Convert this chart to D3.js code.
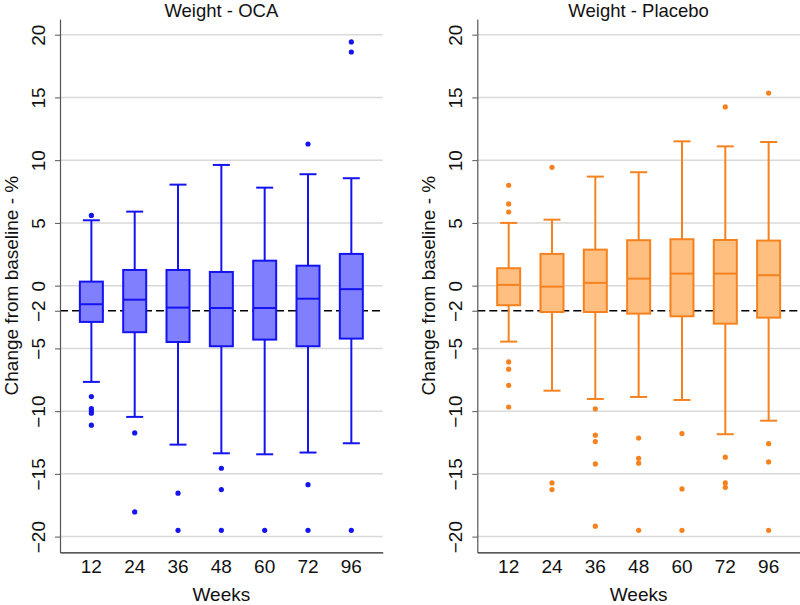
<!DOCTYPE html>
<html><head><meta charset="utf-8">
<script src="https://cdn.jsdelivr.net/npm/d3@7"></script>
<style>body{margin:0;background:#fff}svg{display:block}text{font-family:"Liberation Sans",Arial,sans-serif}</style>
</head><body><svg id="c" width="800" height="605"></svg>
<script>
const weeks = ["12","24","36","48","60","72","96"];
const yTicks = [20,15,10,5,0,-2,-5,-10,-15,-20];
const gridVals = [20,15,10,5,0,-5,-10,-15,-20];
const refLine = -2;

const ocaLow    = [-7.67,-10.46,-12.67,-13.36,-13.44,-13.30,-12.56];
const ocaQ1     = [-2.89,-3.71,-4.49,-4.83,-4.30,-4.83,-4.22];
const ocaMedian = [-1.48,-1.12,-1.75,-1.78,-1.78,-1.04,-0.28];
const ocaQ3     = [0.32,1.25,1.25,1.09,1.99,1.59,2.53];
const ocaHigh   = [5.21,5.90,8.05,9.62,7.81,8.88,8.56];
const ocaOut    = [[5.6,-8.84,-9.8,-9.98,-10.17,-11.12],[-11.74,-18.03],[-16.54,-19.5],[-14.55,-16.25,-19.5],[-19.5],[11.29,-15.86,-19.5],[19.42,18.62,-19.5]];

const plaLow    = [-4.46,-8.37,-9.03,-8.87,-9.11,-11.84,-10.76];
const plaQ1     = [-1.56,-2.10,-2.10,-2.23,-2.44,-3.03,-2.55];
const plaMedian = [0.06,-0.08,0.22,0.56,0.96,0.96,0.83];
const plaQ3     = [1.39,2.53,2.87,3.62,3.70,3.64,3.59];
const plaHigh   = [5.00,5.26,8.69,9.04,11.50,11.10,11.45];
const plaOut    = [[8.0,6.51,5.87,-6.08,-6.66,-7.94,-9.67],[9.43,-15.72,-16.25],[-9.82,-11.92,-12.43,-14.21,-19.17],[-12.14,-13.76,-14.15,-19.5],[-11.79,-16.2,-19.5],[14.24,-13.67,-15.72,-16.07],[15.35,-12.59,-14.05,-19.5]];

const svg = d3.select("#c");
const W = 322.7, yTop = 19, yBottom = 552.3;
const y = d3.scaleLinear().domain([-21.25,21.25]).range([yBottom, yTop]);

const panels = [
  {title:"Weight - OCA", x0:60, low:ocaLow,q1:ocaQ1,med:ocaMedian,q3:ocaQ3,high:ocaHigh,out:ocaOut, fill:"#8080ff", stroke:"#1414f0"},
  {title:"Weight - Placebo", x0:477.3, low:plaLow,q1:plaQ1,med:plaMedian,q3:plaQ3,high:plaHigh,out:plaOut, fill:"#ffbf80", stroke:"#f5821f"}
];

panels.forEach(p => {
  const g = svg.append("g").attr("transform", `translate(${p.x0},0)`);
  const x = d3.scaleBand().domain(weeks).range([0, W]).paddingInner(0).paddingOuter(0.224);
  const bw = 23, cw = 17;

  g.selectAll(".grid").data(gridVals).join("line")
    .attr("x1", 0).attr("x2", W).attr("y1", d => y(d)).attr("y2", d => y(d))
    .attr("stroke", "#d9d9d9").attr("stroke-width", 1.5);
  g.append("line").attr("x1",0).attr("x2",W).attr("y1",y(refLine)).attr("y2",y(refLine))
    .attr("stroke","#000").attr("stroke-width",1.5).attr("stroke-dasharray","8,4");

  const ya = d3.axisLeft(y).tickValues(yTicks).tickSize(5).tickSizeOuter(0);
  const yg = g.append("g").call(ya);
  yg.select(".domain").attr("stroke","#555").attr("stroke-width",1.2);
  yg.selectAll(".tick line").attr("stroke","#555");
  yg.selectAll(".tick text").attr("x",0).attr("y",0).attr("dy",null)
    .attr("transform","translate(-15,0) rotate(-90)").attr("text-anchor","middle")
    .attr("font-size",19).attr("fill","#111").style("font-family","Liberation Sans, Arial, sans-serif");

  const xa = d3.axisBottom(x).tickSize(0).tickSizeOuter(0).tickPadding(7);
  const xg = g.append("g").attr("transform",`translate(0,${yBottom})`).call(xa);
  xg.select(".domain").attr("stroke","#222").attr("stroke-width",1.2);
  xg.selectAll(".tick text").attr("font-size",19).attr("fill","#111").style("font-family","Liberation Sans, Arial, sans-serif");

  const cx = i => x(weeks[i]) + x.bandwidth()/2;
  weeks.forEach((w,i) => {
    const c = cx(i);
    const b = g.append("g").attr("stroke", p.stroke).attr("stroke-width", 2);
    b.append("line").attr("x1",c).attr("x2",c).attr("y1",y(p.q3[i])).attr("y2",y(p.high[i]));
    b.append("line").attr("x1",c).attr("x2",c).attr("y1",y(p.q1[i])).attr("y2",y(p.low[i]));
    b.append("line").attr("x1",c-cw/2).attr("x2",c+cw/2).attr("y1",y(p.high[i])).attr("y2",y(p.high[i]));
    b.append("line").attr("x1",c-cw/2).attr("x2",c+cw/2).attr("y1",y(p.low[i])).attr("y2",y(p.low[i]));
    b.append("rect").attr("x",c-bw/2).attr("width",bw).attr("y",y(p.q3[i]))
      .attr("height",y(p.q1[i])-y(p.q3[i])).attr("fill",p.fill);
    b.append("line").attr("x1",c-bw/2).attr("x2",c+bw/2).attr("y1",y(p.med[i])).attr("y2",y(p.med[i]));
    g.selectAll(null).data(p.out[i]).join("circle")
      .attr("cx",c).attr("cy",d=>y(d)).attr("r",2.6).attr("fill",p.stroke);
  });

  g.append("text").attr("x",W/2).attr("y",16.5).attr("text-anchor","middle")
    .attr("font-size",18.5).attr("fill","#111").text(p.title);
  g.append("text").attr("x",W/2).attr("y",601).attr("text-anchor","middle")
    .attr("font-size",19).attr("fill","#111").text("Weeks");
  g.append("text").attr("transform",`translate(${-42.5},${(yTop+yBottom)/2}) rotate(-90)`)
    .attr("text-anchor","middle").attr("font-size",19).attr("fill","#111").text("Change from baseline - %");
});
</script></body></html>
